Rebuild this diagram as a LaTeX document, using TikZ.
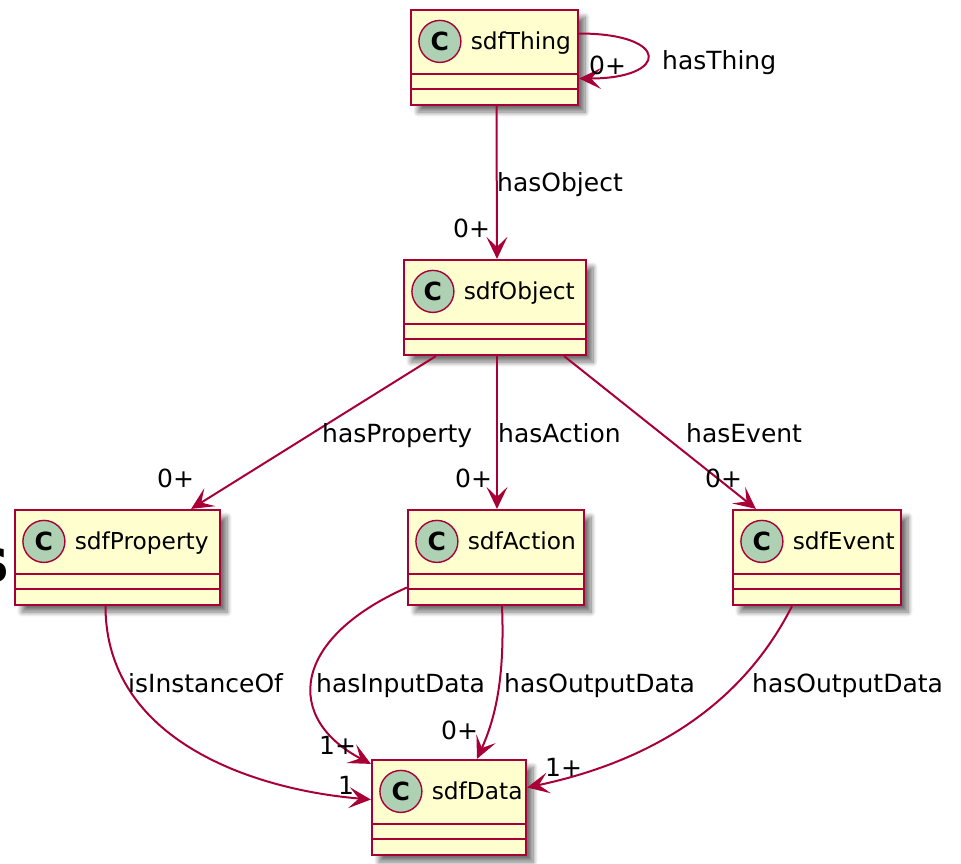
\documentclass[tikz,border=0pt]{standalone}
\usepackage{fontspec}
\setmainfont{DejaVu Sans}
\usetikzlibrary{positioning, arrows.meta, shadows.blur}

\definecolor{umlred}{HTML}{A80036}
\definecolor{umlfill}{HTML}{FEFECE}
\definecolor{umlcirc}{HTML}{ADD1B2}

\begin{document}
\begin{tikzpicture}[x=1pt, y=-1pt,
    umlclass/.style={draw=umlred, fill=umlfill, line width=2.2pt, inner sep=0pt, minimum height=95pt,
        blur shadow={shadow xshift=7pt, shadow yshift=-7pt, shadow blur steps=10, shadow blur radius=5pt, shadow opacity=55}},
    cmark/.style={circle, draw=umlred, fill=umlcirc, line width=1.4pt, minimum size=42pt, inner sep=0pt,
        font=\fontsize{25}{25}\selectfont\bfseries},
    cname/.style={inner sep=0pt, text height=18pt, text depth=1pt, font=\fontsize{23.3}{27}\selectfont},
    compline/.style={draw=umlred, line width=1.8pt},
    lbl/.style={inner sep=0pt, anchor=base west, font=\fontsize{25}{29}\selectfont},
    mult/.style={lbl},
    rel/.style={draw=umlred, line width=2pt, -{Stealth[length=22pt, width=21pt, inset=10pt]}},
]
    \useasboundingbox (0,0) rectangle (961,863);

    % cut-off letter on the left margin
    \node[inner sep=0pt, anchor=base east, font=\fontsize{62}{62}\selectfont\bfseries] (stray) at (10, 582) {s};

    % classes
    \node[umlclass, minimum width=167pt] (thing) at (494.5, 57.5) {};
    \node[umlclass, minimum width=182pt] (object) at (495, 307.5) {};
    \node[umlclass, minimum width=205pt] (property) at (117.5, 557.5) {};
    \node[umlclass, minimum width=176pt] (action) at (496, 557.5) {};
    \node[umlclass, minimum width=168pt] (event) at (817, 557.5) {};
    \node[umlclass, minimum width=154pt] (data) at (449, 807.5) {};

    % class headers
    \node[cmark] (thingC) at ([xshift=30pt, yshift=-32.5pt]thing.north west) {C};
    \node[cname, right=9pt of thingC] (thingN) {sdfThing};
    \node[cmark] (objectC) at ([xshift=30pt, yshift=-32.5pt]object.north west) {C};
    \node[cname, right=9pt of objectC] (objectN) {sdfObject};
    \node[cmark] (propertyC) at ([xshift=30pt, yshift=-32.5pt]property.north west) {C};
    \node[cname, right=9pt of propertyC] (propertyN) {sdfProperty};
    \node[cmark] (actionC) at ([xshift=30pt, yshift=-32.5pt]action.north west) {C};
    \node[cname, right=9pt of actionC] (actionN) {sdfAction};
    \node[cmark] (eventC) at ([xshift=30pt, yshift=-32.5pt]event.north west) {C};
    \node[cname, right=9pt of eventC] (eventN) {sdfEvent};
    \node[cmark] (dataC) at ([xshift=30pt, yshift=-32.5pt]data.north west) {C};
    \node[cname, right=9pt of dataC] (dataN) {sdfData};

    % empty attribute / method compartments
    \draw[compline] ([yshift=-65pt]thing.north west) -- ([yshift=-65pt]thing.north east);
    \draw[compline] ([yshift=-80pt]thing.north west) -- ([yshift=-80pt]thing.north east);
    \draw[compline] ([yshift=-65pt]object.north west) -- ([yshift=-65pt]object.north east);
    \draw[compline] ([yshift=-80pt]object.north west) -- ([yshift=-80pt]object.north east);
    \draw[compline] ([yshift=-65pt]property.north west) -- ([yshift=-65pt]property.north east);
    \draw[compline] ([yshift=-80pt]property.north west) -- ([yshift=-80pt]property.north east);
    \draw[compline] ([yshift=-65pt]action.north west) -- ([yshift=-65pt]action.north east);
    \draw[compline] ([yshift=-80pt]action.north west) -- ([yshift=-80pt]action.north east);
    \draw[compline] ([yshift=-65pt]event.north west) -- ([yshift=-65pt]event.north east);
    \draw[compline] ([yshift=-80pt]event.north west) -- ([yshift=-80pt]event.north east);
    \draw[compline] ([yshift=-65pt]data.north west) -- ([yshift=-65pt]data.north east);
    \draw[compline] ([yshift=-80pt]data.north west) -- ([yshift=-80pt]data.north east);

    % relations
    \draw[rel] ([yshift=24pt]thing.east) .. controls +(92,0) and +(90,0) .. ([yshift=-21pt]thing.east);
    \draw[rel] ([xshift=2pt]thing.south) -- ([xshift=2pt]object.north);
    \draw[rel] ([xshift=33pt]object.south west) -- ([xshift=-30pt]property.north east);
    \draw[rel] ([xshift=2pt]object.south) -- ([xshift=1pt]action.north);
    \draw[rel] ([xshift=-23pt]object.south east) -- ([xshift=24pt]event.north west);
    \draw[rel] ([xshift=-12pt]property.south) .. controls +(0,133) and +(-120,-10) .. ([yshift=8pt]data.west);
    \draw[rel] ([yshift=-30pt]action.west) .. controls +(-117,52) and +(-86,-45) .. ([yshift=-5pt]data.north west);
    \draw[rel] ([xshift=6pt]action.south) .. controls +(3,73) and +(18,-40) .. ([xshift=28pt]data.north);
    \draw[rel] ([xshift=-25pt]event.south) .. controls +(-47,93) and +(132,-28) .. ([yshift=20pt]data.east);

    % relation names
    \node[lbl] (lThing) at (662, 69) {hasThing};
    \node[lbl] (lObject) at (497, 191) {hasObject};
    \node[lbl] (lProperty) at (322, 442) {hasProperty};
    \node[lbl] (lAction) at (498, 442) {hasAction};
    \node[lbl] (lEvent) at (686, 442) {hasEvent};
    \node[lbl] (lInstance) at (128, 692) {isInstanceOf};
    \node[lbl] (lInput) at (316, 692) {hasInputData};
    \node[lbl] (lOutA) at (504, 692) {hasOutputData};
    \node[lbl] (lOutE) at (752, 692) {hasOutputData};

    % multiplicities
    \node[mult] (mThing) at (589, 74) {0+};
    \node[mult] (mObject) at (453, 237) {0+};
    \node[mult] (mProperty) at (157, 487) {0+};
    \node[mult] (mAction) at (455, 487) {0+};
    \node[mult] (mEvent) at (705, 487) {0+};
    \node[mult] (mInput) at (319, 754) {1+};
    \node[mult] (mInstance) at (338, 794) {1};
    \node[mult] (mOutA) at (441, 739) {0+};
    \node[mult] (mOutE) at (545, 776) {1+};
\end{tikzpicture}
\end{document}
